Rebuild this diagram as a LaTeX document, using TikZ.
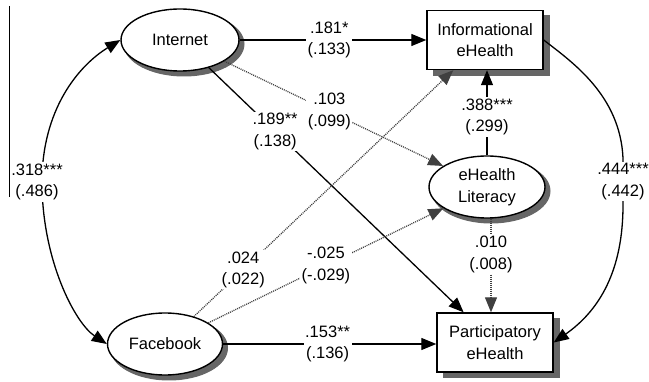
\documentclass[tikz,border=0pt]{standalone}
\usepackage{fontspec}
\setmainfont{Liberation Sans}
\usetikzlibrary{positioning, shapes, arrows.meta}

\begin{document}
\begin{tikzpicture}[x=1pt, y=-1pt,
every node/.style={font=\fontsize{16.5}{21.5}\selectfont},
latent/.style={ellipse, align=center, draw, line width=1.4pt, fill=white, minimum width=118pt, minimum height=62pt, inner sep=0pt},
observed/.style={rectangle, align=center, draw, line width=1.4pt, fill=white, minimum width=116pt, minimum height=59pt},
shadowfill/.style={fill=black!60, draw=black!60, line width=1pt},
solidpath/.style={->, >={Triangle[length=15pt, width=12pt]}, line width=1.3pt},
dotpath/.style={solidpath, draw=black!75, dash pattern=on 1pt off 1pt},
coef/.style={fill=white, text=black, align=center, inner sep=1.5pt},
]
\useasboundingbox (0,0) rectangle (649,382);

% Shadows
\filldraw [shadowfill] (184,44) ellipse [x radius=60, y radius=32];
\filldraw [shadowfill] (169,348) ellipse [x radius=58.5, y radius=32];
\filldraw [shadowfill] (491,191) ellipse [x radius=59, y radius=32];
\filldraw [shadowfill] (433,16) rectangle (549,76);
\filldraw [shadowfill] (443,318.5) rectangle (559,378);

%Nodes
\node [latent] (internet) at (180,40) {Internet};
\node [latent, minimum width=115pt] (facebook) at (165,344) {Facebook};
\node [latent, minimum width=116pt] (lit) at (487,187) {eHealth\\Literacy};
\node [observed] (info) at (485,40) {Informational\\eHealth};
\node [observed] (part) at (495,342.5) {Participatory\\eHealth};

% Paths
\draw [line width=0.8pt] (9,6) -- (9,197);

\draw [solidpath] (internet) -- node[coef, pos=0.48] {.181*\\(.133)} (info);
\draw [dotpath] (internet) -- node[coef, pos=0.48] {.103\\(.099)} (lit);
\draw [solidpath] (internet) -- node[coef, pos=0.26] {.189**\\(.138)} (part);
\draw [dotpath] (facebook) -- node[coef, pos=0.19] {.024\\(.022)} (info);
\draw [dotpath] (facebook) -- node[coef, pos=0.5] {-.025\\(-.029)} (lit);
\draw [solidpath] (facebook.east) -- node[coef, pos=0.49] {.153**\\(.136)} (facebook.east -| part.west);

\draw [solidpath] (lit.north) -- node[coef, pos=0.45] {.388***\\(.299)} (lit.north |- info.south);
\draw [dotpath] ([xshift=4pt]lit.south) -- node[coef, pos=0.38] {.010\\(.008)} ([xshift=4pt]lit.south |- part.north);

\draw [solidpath, <->] (internet.west) .. controls (78,66) and (42,110) .. (42,182) node[coef, xshift=-5pt] {.318***\\(.486)} .. controls (42,260) and (75,323) .. (facebook.west);
\draw [solidpath] (info.east) .. controls (572,62) and (620,95) .. (623,158) -- node[coef, midway] {.444***\\(.442)} (623,205) .. controls (623,270) and (600,310) .. (part.east);
\end{tikzpicture}
\end{document}
